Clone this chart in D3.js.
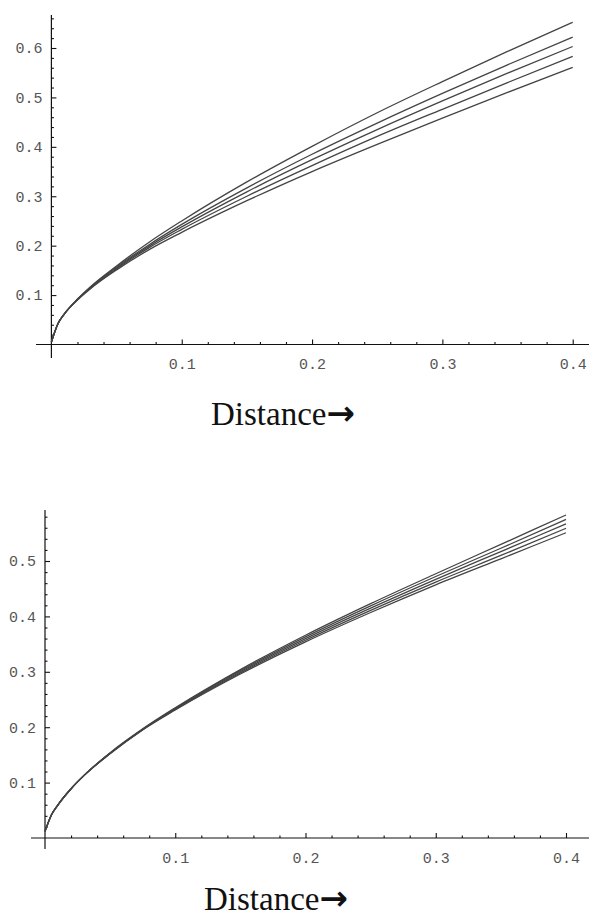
<!DOCTYPE html>
<html>
<head>
<meta charset="utf-8">
<script src="https://cdn.jsdelivr.net/npm/d3@7"></script>
<style>
  body { margin: 0; background: #fff; }
  .tick text { font-family: "Courier New", "Liberation Mono", monospace; fill: #555; }
  .caption { font-family: "Times New Roman", "Liberation Serif", serif; fill: #111; }
</style>
</head>
<body>
<svg id="chart" width="589" height="921"></svg>
<script>
// data
const distance = [0, 0.005, 0.01, 0.02, 0.03, 0.05, 0.075, 0.1, 0.15, 0.2, 0.25, 0.3, 0.35, 0.4]

const topSeries = [
    [0.005, 0.042, 0.062, 0.092, 0.117, 0.159, 0.207, 0.250, 0.329, 0.401, 0.469, 0.532, 0.593, 0.652],
    [0.005, 0.042, 0.062, 0.091, 0.116, 0.157, 0.202, 0.243, 0.317, 0.385, 0.448, 0.508, 0.566, 0.622],
    [0.005, 0.042, 0.062, 0.091, 0.115, 0.155, 0.199, 0.238, 0.309, 0.374, 0.435, 0.493, 0.549, 0.603],
    [0.005, 0.042, 0.062, 0.091, 0.114, 0.153, 0.196, 0.233, 0.300, 0.362, 0.421, 0.476, 0.530, 0.583],
    [0.005, 0.042, 0.062, 0.090, 0.113, 0.151, 0.192, 0.227, 0.291, 0.350, 0.405, 0.458, 0.510, 0.561]
]

const bottomSeries = [
    [0.012, 0.042, 0.060, 0.089, 0.113, 0.154, 0.197, 0.235, 0.304, 0.366, 0.423, 0.477, 0.530, 0.583],
    [0.012, 0.042, 0.060, 0.089, 0.113, 0.153, 0.196, 0.234, 0.302, 0.363, 0.419, 0.472, 0.523, 0.575],
    [0.012, 0.042, 0.060, 0.089, 0.113, 0.153, 0.196, 0.233, 0.300, 0.360, 0.415, 0.467, 0.517, 0.567],
    [0.012, 0.042, 0.060, 0.089, 0.113, 0.153, 0.196, 0.232, 0.298, 0.357, 0.411, 0.462, 0.510, 0.559],
    [0.012, 0.042, 0.060, 0.089, 0.113, 0.152, 0.195, 0.231, 0.296, 0.354, 0.407, 0.457, 0.504, 0.551]
]

const xTicks = [0.1, 0.2, 0.3, 0.4]
const topYTicks = [0.1, 0.2, 0.3, 0.4, 0.5, 0.6]
const bottomYTicks = [0.1, 0.2, 0.3, 0.4, 0.5]
const axisTitle = 'Distance'

const svg = d3.select('#chart')

// one panel: layout only, values come from the arrays above
const drawPanel = (series, yTicks, opts) => {
    const x = d3.scaleLinear().domain([0, 0.4]).range([opts.x0, opts.x1])
    const y = d3.scaleLinear().domain([0, opts.yTop]).range([opts.y0, opts.y1])
    const g = svg.append('g')

    // axis lines
    g.append('line')
        .attr('x1', opts.xAxisFrom).attr('x2', 589)
        .attr('y1', y(0)).attr('y2', y(0))
        .attr('stroke', '#111').attr('stroke-width', 1.2)
    g.append('line')
        .attr('x1', x(0)).attr('x2', x(0))
        .attr('y1', opts.yAxisFrom).attr('y2', opts.yAxisTo)
        .attr('stroke', '#111').attr('stroke-width', 1.2)

    // minor ticks
    const notMajor = v => Math.abs(v * 10 - Math.round(v * 10)) > 1e-6
    const xMinor = d3.range(0.02, 0.41, 0.02).filter(notMajor)
    const yMinor = d3.range(0.02, opts.yMax, 0.02).filter(notMajor)

    g.append('g')
        .attr('transform', `translate(0,${y(0)})`)
        .call(d3.axisBottom(x).tickValues(xMinor).tickSize(-2.5).tickFormat(''))
        .call(a => a.select('.domain').remove())
    g.append('g')
        .attr('transform', `translate(${x(0)},0)`)
        .call(d3.axisLeft(y).tickValues(yMinor).tickSize(-2.5).tickFormat(''))
        .call(a => a.select('.domain').remove())

    // major ticks + labels
    g.append('g')
        .attr('transform', `translate(0,${y(0)})`)
        .call(d3.axisBottom(x).tickValues(xTicks).tickSize(-5).tickPadding(14).tickFormat(d3.format('.1f')))
        .call(a => a.select('.domain').remove())
        .call(a => a.selectAll('text').attr('font-size', 15))
    g.append('g')
        .attr('transform', `translate(${x(0)},0)`)
        .call(d3.axisLeft(y).tickValues(yTicks).tickSize(-5).tickPadding(9).tickFormat(d3.format('.1f')))
        .call(a => a.select('.domain').remove())
        .call(a => a.selectAll('text').attr('font-size', 15))
    g.selectAll('.tick line').attr('stroke', '#111').attr('stroke-width', 1.1)

    // curves
    const line = d3.line()
        .x((d, i) => x(distance[i]))
        .y(d => y(d))
        .curve(d3.curveMonotoneX)

    g.selectAll('path.curve')
        .data(series)
        .enter()
        .append('path')
        .attr('class', 'curve')
        .attr('d', line)
        .attr('fill', 'none')
        .attr('stroke', '#444')
        .attr('stroke-width', 1.3)

    // caption
    const t = g.append('text')
        .attr('class', 'caption')
        .attr('x', opts.capX)
        .attr('y', opts.capY)
        .attr('font-size', 33)
    t.append('tspan').text(axisTitle)
    t.append('tspan')
        .attr('font-family', 'DejaVu Sans')
        .attr('font-weight', 'bold')
        .attr('font-size', 34)
        .text('\u2192')
}

drawPanel(topSeries, topYTicks, {
    x0: 51.4, x1: 572.7, y0: 344.5, y1: 48, yTop: 0.6, yMax: 0.67,
    xAxisFrom: 36, yAxisFrom: 15, yAxisTo: 358,
    capX: 211, capY: 425
})

drawPanel(bottomSeries, bottomYTicks, {
    x0: 45, x1: 566, y0: 838, y1: 561, yTop: 0.5, yMax: 0.59,
    xAxisFrom: 31, yAxisFrom: 510, yAxisTo: 849,
    capX: 204, capY: 910
})
</script>
</body>
</html>
